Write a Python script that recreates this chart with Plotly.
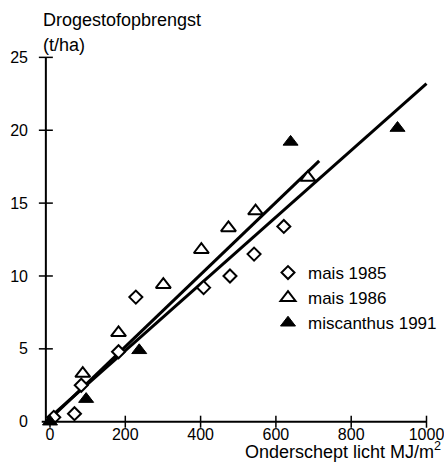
import plotly.graph_objects as go

# ---------------- data ----------------
mais85_x = [10, 65, 83, 182, 228, 408, 478, 542, 621]
mais85_y = [0.3, 0.55, 2.5, 4.8, 8.55, 9.2, 10.0, 11.5, 13.4]

mais86_x = [87, 182, 301, 402, 474, 546, 685]
mais86_y = [3.3, 6.1, 9.4, 11.8, 13.3, 14.45, 16.75]

misc91_x = [0, 96, 237, 639, 923]
misc91_y = [0.0, 1.55, 4.9, 19.2, 20.15]

fit_mais_x = [0, 715]
fit_mais_y = [0.2, 17.9]
fit_misc_x = [0, 1000]
fit_misc_y = [0.3, 23.2]

x_ticks = [0, 200, 400, 600, 800, 1000]
y_ticks = [0, 5, 10, 15, 20, 25]

series_names = ["mais 1985", "mais 1986", "miscanthus 1991"]
y_title_lines = ["Drogestofopbrengst", "(t/ha)"]
x_title = "Onderschept licht MJ/m<sup>2</sup>"

# ---------------- layout geometry ----------------
W, H = 444, 467
ML, MR, MT, MB = 37, 14, 53, 38
pw = W - ML - MR
SX = 0.3765                      # px per x unit
X0PX = 50                        # px where x = 0 lies
XR = [-(X0PX - ML) / SX, -(X0PX - ML) / SX + pw / SX]
YR = [-0.5, 25.3]
ph = H - MT - MB
ux = (XR[1] - XR[0]) / pw      # x units per px
uy = (YR[1] - YR[0]) / ph      # y units per px

YAXIS_AT = -11                 # x value where the vertical axis is drawn
XAXIS_START = -22
FONT = "Liberation Sans, Arial, sans-serif"
FS = 17
TITLE_FS = 18
TFS = 16


def px_x(p):
    return (p - ML) / pw


def px_y(p):
    return (H - MB - p) / ph


fig = go.Figure()

fig.add_trace(go.Scatter(x=fit_mais_x, y=fit_mais_y, mode="lines",
                         line=dict(color="black", width=3), showlegend=False,
                         hoverinfo="skip"))
fig.add_trace(go.Scatter(x=fit_misc_x, y=fit_misc_y, mode="lines",
                         line=dict(color="black", width=3), showlegend=False,
                         hoverinfo="skip"))

fig.add_trace(go.Scatter(x=mais85_x, y=mais85_y, mode="markers", name=series_names[0],
                         marker=dict(symbol="diamond", size=10, color="white",
                                     line=dict(color="black", width=2)),
                         cliponaxis=False))
fig.add_trace(go.Scatter(x=mais86_x, y=mais86_y, mode="markers", name=series_names[1],
                         marker=dict(symbol="triangle-up", size=13, color="white",
                                     line=dict(color="black", width=2)),
                         cliponaxis=False))
fig.add_trace(go.Scatter(x=misc91_x, y=misc91_y, mode="markers", name=series_names[2],
                         marker=dict(symbol="triangle-up", size=13, color="black",
                                     line=dict(color="black", width=1)),
                         cliponaxis=False))

shapes = []
# axes
shapes.append(dict(type="line", x0=XAXIS_START, x1=x_ticks[-1], y0=0, y1=0,
                   line=dict(color="black", width=2)))
shapes.append(dict(type="line", x0=YAXIS_AT, x1=YAXIS_AT, y0=-0.15, y1=y_ticks[-1],
                   line=dict(color="black", width=2)))
# crossing ticks
for t in x_ticks:
    shapes.append(dict(type="line", x0=t, x1=t, y0=-6 * uy, y1=6 * uy,
                       line=dict(color="black", width=1.5)))
for t in y_ticks[1:]:
    shapes.append(dict(type="line", x0=YAXIS_AT - 7 * ux, x1=YAXIS_AT + 7 * ux,
                       y0=t, y1=t, line=dict(color="black", width=1.5)))

annotations = [
    dict(text=y_title_lines[0], xref="paper", yref="paper", x=px_x(41),
         y=px_y(20), xanchor="left", yanchor="middle", align="left",
         showarrow=False, font=dict(size=TITLE_FS, color="black", family=FONT)),
    dict(text=y_title_lines[1], xref="paper", yref="paper", x=px_x(41),
         y=px_y(45), xanchor="left", yanchor="middle", align="left",
         showarrow=False, font=dict(size=TITLE_FS, color="black", family=FONT)),
    dict(text=x_title, xref="paper", yref="paper", x=px_x(443),
         y=px_y(464), xanchor="right", yanchor="bottom",
         showarrow=False, font=dict(size=TITLE_FS, color="black", family=FONT)),
]

fig.update_layout(
    width=W, height=H,
    margin=dict(l=ML, r=MR, t=MT, b=MB, pad=0, autoexpand=False),
    paper_bgcolor="white", plot_bgcolor="white",
    font=dict(family=FONT, size=FS, color="black"),
    shapes=shapes, annotations=annotations,
    showlegend=True,
    legend=dict(x=px_x(268), y=px_y(255), xanchor="left", yanchor="top",
                bgcolor="rgba(0,0,0,0)", font=dict(size=FS, family=FONT, color="black"),
                tracegroupgap=0, itemwidth=30),
    xaxis=dict(range=XR, showgrid=False, zeroline=False, showline=False, automargin=False,
               tickvals=x_ticks, ticktext=[str(v) for v in x_ticks], ticks="",
               ticklabeloverflow="allow",
               ticklabelstandoff=-6, tickfont=dict(size=TFS, family=FONT, color="black")),
    yaxis=dict(range=YR, showgrid=False, zeroline=False, showline=False, automargin=False,
               tickvals=y_ticks, ticktext=[str(v) for v in y_ticks], ticks="",
               ticklabeloverflow="allow",
               ticklabelstandoff=8, tickfont=dict(size=TFS, family=FONT, color="black")),
)

fig.write_html("out.html", config={"displayModeBar": False},
               post_script="document.body.style.margin='0';document.body.style.overflow='hidden';")
